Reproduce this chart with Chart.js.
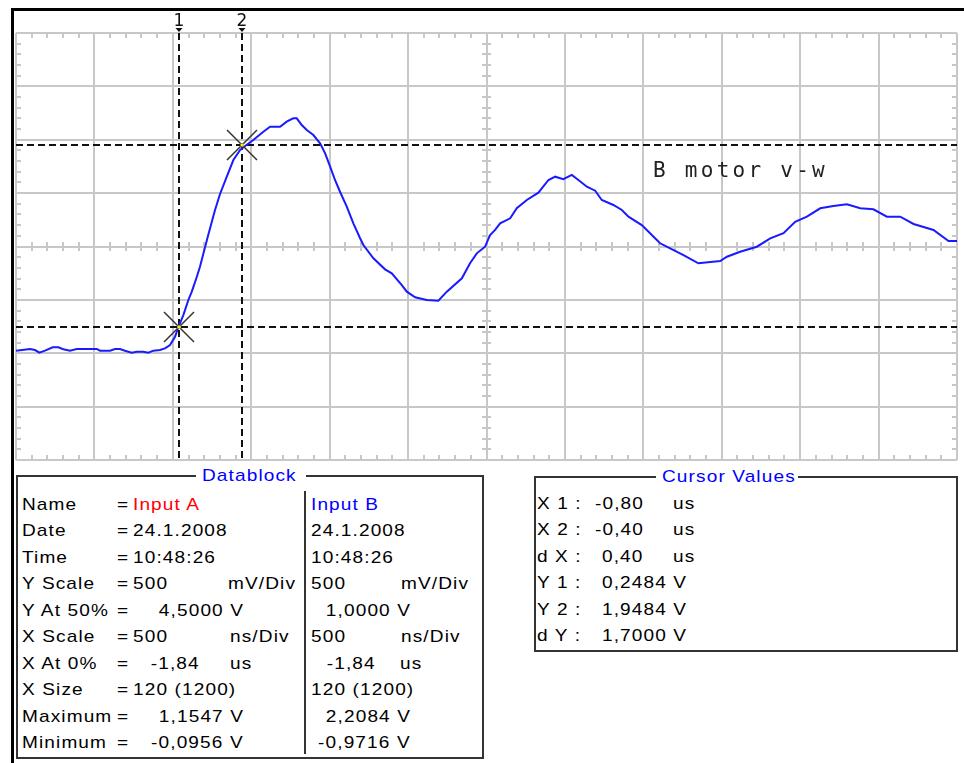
<!DOCTYPE html>
<html>
<head>
<meta charset="utf-8">
<script src="https://cdn.jsdelivr.net/npm/chart.js@4.4.1/dist/chart.umd.min.js"></script>
<style>
  body { margin: 0; background: #fff; width: 964px; height: 763px; overflow: hidden; position: relative;
         font-family: "Liberation Sans", Arial, sans-serif; }
  #frame { position: absolute; left: 11px; top: 8px; width: 960px; height: 760px;
           border-top: 3px solid #000; border-left: 3px solid #000; }
  #scope { position: absolute; left: 0; top: 0; width: 964px; height: 470px; }
  .box { position: absolute; border: 2px solid #333; }
  .t { position: absolute; font-size: 17px; line-height: 20px; letter-spacing: 1px; color: #000; white-space: pre;
       transform: scaleX(1.12); transform-origin: left center; }
  .t.r { transform-origin: right center; }
  .title { position: absolute; line-height: 20px; background: #fff; padding: 0 6px; white-space: pre; }
  .title span { display: inline-block; font-size: 17px; letter-spacing: 1px; color: #0000ff;
                transform: scaleX(1.12); transform-origin: left center; }
</style>
</head>
<body>
<div id="frame"></div>
<div id="scope"><canvas id="scopeChart"></canvas></div>
<div id="panels"></div>

<script>
// time axis in us, voltage in V (Input B)
const timeUs = [-1.840, -1.751, -1.719, -1.691, -1.655, -1.606, -1.570, -1.538, -1.496, -1.453,
  -1.325, -1.304, -1.240, -1.209, -1.177, -1.145, -1.102, -1.070, -1.028, -0.996,
  -0.964, -0.922, -0.890, -0.858, -0.826, -0.805, -0.773, -0.741, -0.719, -0.687,
  -0.667, -0.616, -0.571, -0.539, -0.496, -0.454, -0.411, -0.379, -0.327,
  -0.263, -0.220, -0.156, -0.114, -0.072, -0.050, -0.018, 0.014, 0.056, 0.099,
  0.131, 0.163, 0.194, 0.226, 0.269, 0.311, 0.354, 0.375, 0.439, 0.513,
  0.556, 0.620, 0.652, 0.705, 0.779, 0.853, 0.907, 1.003, 1.055, 1.098,
  1.151, 1.183, 1.215, 1.247, 1.311, 1.353, 1.417, 1.491, 1.555, 1.598,
  1.650, 1.704, 1.746, 1.800, 1.853, 1.895, 1.969, 2.023, 2.065, 2.150,
  2.235, 2.267, 2.331, 2.416, 2.511, 2.650, 2.693, 2.777, 2.884, 2.969,
  3.054, 3.128, 3.203, 3.288, 3.372, 3.458, 3.543, 3.627, 3.713, 3.798,
  3.883, 4.010, 4.106, 4.160];
const voltsB = [0.024, 0.040, 0.030, 0.005, 0.024, 0.056, 0.056, 0.037, 0.024, 0.040,
  0.040, 0.024, 0.024, 0.040, 0.040, 0.024, 0.005, 0.014, 0.014, 0.005,
  0.024, 0.030, 0.046, 0.077, 0.155, 0.243, 0.358, 0.499, 0.577, 0.717,
  0.811, 1.098, 1.342, 1.492, 1.654, 1.810, 1.904, 1.941, 1.998,
  2.075, 2.122, 2.122, 2.169, 2.201, 2.201, 2.138, 2.091, 2.044, 1.967,
  1.873, 1.748, 1.623, 1.513, 1.373, 1.217, 1.077, 1.014, 0.889, 0.786,
  0.749, 0.639, 0.577, 0.524, 0.499, 0.492, 0.577, 0.702, 0.843, 0.936,
  0.998, 1.108, 1.155, 1.217, 1.264, 1.358, 1.436, 1.504, 1.623, 1.654,
  1.630, 1.670, 1.623, 1.560, 1.523, 1.436, 1.389, 1.342, 1.279, 1.201,
  1.077, 1.030, 0.983, 0.920, 0.843, 0.864, 0.904, 0.951, 0.998, 1.077,
  1.124, 1.232, 1.279, 1.358, 1.379, 1.395, 1.358, 1.348, 1.279, 1.279,
  1.211, 1.155, 1.052, 1.052];

// graticule: 500 ns/div from -1.84 us, 500 mV/div around 1.0 V
const xGrid = [-1.84, -1.34, -0.84, -0.34, 0.16, 0.66, 1.16, 1.66, 2.16, 2.66, 3.16, 3.66, 4.16];
const yGrid = [-1.0, -0.5, 0.0, 0.5, 1.0, 1.5, 2.0, 2.5, 3.0];

// cursors 1 and 2
const cursorX = [-0.80, -0.40];
const cursorY = [0.2484, 1.9484];
const cursorNames = ['1', '2'];

const traceLabel = 'B motor v-w';
const traceLabelAt = { x: 2.222, y: 1.698 };

// datablock
const rowLabels = ['Name', 'Date', 'Time', 'Y Scale', 'Y At 50%', 'X Scale', 'X At 0%', 'X Size', 'Maximum', 'Minimum'];
const valuesA = ['Input A', '24.1.2008', '10:48:26', '500', '4,5000 V', '500', '-1,84', '120 (1200)', '1,1547 V', '-0,0956 V'];
const valuesB = ['Input B', '24.1.2008', '10:48:26', '500', '1,0000 V', '500', '-1,84', '120 (1200)', '2,2084 V', '-0,9716 V'];
const rowUnits = ['', '', '', 'mV/Div', '', 'ns/Div', 'us', '', '', ''];

// cursor values block
const cursorLabels = ['X 1 :', 'X 2 :', 'd X :', 'Y 1 :', 'Y 2 :', 'd Y :'];
const cursorValues = ['-0,80', '-0,40', '0,40', '0,2484 V', '1,9484 V', '1,7000 V'];
const cursorUnits = ['us', 'us', 'us', '', '', ''];

const GRID = '#c8c8c8';

const scopeDecor = {
  id: 'scopeDecor',
  beforeDatasetsDraw(chart) {
    const { ctx, chartArea: a, scales: { x, y } } = chart;
    const xs = x.ticks.map(t => x.getPixelForValue(t.value));
    const ys = y.ticks.map(t => y.getPixelForValue(t.value));
    const xc = x.getPixelForValue(xGrid[6]);
    const yc = y.getPixelForValue(yGrid[4]);
    ctx.save();
    ctx.strokeStyle = GRID;
    ctx.lineWidth = 2;
    ctx.beginPath();
    for (let i = 0; i < xs.length - 1; i++) {
      for (let k = 1; k < 5; k++) {
        const px = Math.round(xs[i] + (xs[i + 1] - xs[i]) * k / 5);
        ctx.moveTo(px, a.top); ctx.lineTo(px, a.top + 5);
        ctx.moveTo(px, a.bottom - 5); ctx.lineTo(px, a.bottom);
        ctx.moveTo(px, yc - 4.5); ctx.lineTo(px, yc + 4.5);
      }
    }
    for (let i = 0; i < ys.length - 1; i++) {
      for (let k = 1; k < 5; k++) {
        const py = Math.round(ys[i] + (ys[i + 1] - ys[i]) * k / 5);
        ctx.moveTo(a.left, py); ctx.lineTo(a.left + 5, py);
        ctx.moveTo(a.right - 5, py); ctx.lineTo(a.right, py);
        ctx.moveTo(xc - 4.5, py); ctx.lineTo(xc + 4.5, py);
      }
    }
    ctx.stroke();

    // dashed cursor lines
    ctx.strokeStyle = '#111';
    ctx.lineWidth = 2;
    ctx.setLineDash([7, 4]);
    cursorX.forEach(v => {
      const px = Math.round(x.getPixelForValue(v));
      ctx.beginPath(); ctx.moveTo(px, a.top); ctx.lineTo(px, a.bottom); ctx.stroke();
    });
    cursorY.forEach(v => {
      const py = Math.round(y.getPixelForValue(v));
      ctx.beginPath(); ctx.moveTo(a.left, py); ctx.lineTo(a.right, py); ctx.stroke();
    });
    ctx.restore();
  },
  afterDatasetsDraw(chart) {
    const { ctx, chartArea: a, scales: { x, y } } = chart;
    ctx.save();
    cursorX.forEach((v, i) => {
      const px = Math.round(x.getPixelForValue(v));
      const py = Math.round(y.getPixelForValue(cursorY[i]));
      ctx.strokeStyle = '#333';
      ctx.lineWidth = 1.5;
      ctx.beginPath();
      ctx.moveTo(px - 15, py - 15); ctx.lineTo(px + 15, py + 15);
      ctx.moveTo(px + 15, py - 15); ctx.lineTo(px - 15, py + 15);
      ctx.stroke();
      ctx.fillStyle = '#ffee00';
      ctx.fillRect(px - 1.5, py - 1.5, 3, 3);
      // marker and number on top
      ctx.fillStyle = '#111';
      ctx.beginPath();
      ctx.moveTo(px - 3.5, a.top - 5); ctx.lineTo(px + 3.5, a.top - 5); ctx.lineTo(px, a.top - 1);
      ctx.closePath(); ctx.fill();
      ctx.font = '17px "DejaVu Sans"';
      ctx.textAlign = 'center';
      ctx.textBaseline = 'alphabetic';
      ctx.fillText(cursorNames[i], px, a.top - 7);
    });
    ctx.fillStyle = '#222';
    ctx.font = '21px "DejaVu Sans Mono"';
    ctx.textAlign = 'left';
    ctx.textBaseline = 'middle';
    const lx = x.getPixelForValue(traceLabelAt.x);
    const ly = y.getPixelForValue(traceLabelAt.y);
    for (let i = 0; i < traceLabel.length; i++) {
      ctx.fillText(traceLabel[i], lx + i * 15.9, ly);
    }
    ctx.restore();
  }
};

const points = timeUs.map((t, i) => ({ x: t, y: voltsB[i] }));

new Chart(document.getElementById('scopeChart').getContext('2d'), {
  type: 'line',
  data: {
    datasets: [{
      label: 'Input B',
      data: points,
      borderColor: '#1a1aff',
      borderWidth: 2,
      pointRadius: 0,
      tension: 0,
      fill: false
    }]
  },
  options: {
    responsive: true,
    maintainAspectRatio: false,
    animation: false,
    layout: { padding: { left: 16, top: 33, right: 7, bottom: 10 } },
    plugins: { legend: { display: false }, tooltip: { enabled: false } },
    scales: {
      x: {
        type: 'linear', min: xGrid[0], max: xGrid[xGrid.length - 1],
        afterBuildTicks: s => { s.ticks = xGrid.map(v => ({ value: v })); },
        ticks: { display: false },
        grid: { color: GRID, lineWidth: 2, drawTicks: false },
        border: { display: false }
      },
      y: {
        type: 'linear', min: yGrid[0], max: yGrid[yGrid.length - 1],
        afterBuildTicks: s => { s.ticks = yGrid.map(v => ({ value: v })); },
        ticks: { display: false },
        grid: { color: GRID, lineWidth: 2, drawTicks: false },
        border: { display: false }
      }
    }
  },
  plugins: [scopeDecor]
});

// text panels
const panels = document.getElementById('panels');
function box(l, t, w, h) {
  const d = document.createElement('div');
  d.className = 'box';
  Object.assign(d.style, { left: l + 'px', top: t + 'px', width: w + 'px', height: h + 'px' });
  panels.appendChild(d);
}
function txt(s, left, top, color, right) {
  const d = document.createElement('div');
  d.className = 't';
  d.textContent = s;
  d.style.top = top + 'px';
  if (right !== undefined) {
    d.classList.add('r');
    d.style.right = (964 - right - 1) + 'px';
  } else d.style.left = left + 'px';
  if (color) d.style.color = color;
  panels.appendChild(d);
}
function title(s, left, top, width) {
  const d = document.createElement('div');
  d.className = 'title';
  const sp = document.createElement('span');
  sp.textContent = s;
  d.appendChild(sp);
  Object.assign(d.style, { left: (left - 6) + 'px', top: top + 'px', width: width + 'px' });
  panels.appendChild(d);
}

box(16, 475, 464, 280);
box(534, 476, 420, 172);
const divider = document.createElement('div');
Object.assign(divider.style, { position: 'absolute', left: '304px', top: '491px', width: '2px', height: '263px', background: '#333' });
panels.appendChild(divider);
title('Datablock', 202, 466, 98);
title('Cursor Values', 662, 467, 130);

const rowTop = i => 494.5 + i * 26.55;
rowLabels.forEach((lab, i) => {
  const top = rowTop(i);
  txt(lab, 22, top);
  txt('=', 117, top);
  const a = valuesA[i], b = valuesB[i];
  const unit = rowUnits[i];
  const aligned = a.endsWith(' V') || unit === 'us';
  if (aligned) {
    txt(a, 0, top, null, unit === 'us' ? 199 : 243);
    txt(b, 0, top, null, unit === 'us' ? 375 : 410);
  } else {
    txt(a, 133, top, i === 0 ? '#ff0000' : null);
    txt(b, 311, top, i === 0 ? '#0000ff' : null);
  }
  if (unit) {
    txt(unit, unit === 'mV/Div' ? 228 : 230, top);
    txt(unit, unit === 'us' ? 400 : 401, top);
  }
});

cursorLabels.forEach((lab, i) => {
  const top = rowTop(i) - 1;
  txt(lab, 537, top);
  const v = cursorValues[i];
  txt(v, v.startsWith('-') ? 595 : 601.7, top);
  if (cursorUnits[i]) txt(cursorUnits[i], 673, top);
});
</script>
</body>
</html>
